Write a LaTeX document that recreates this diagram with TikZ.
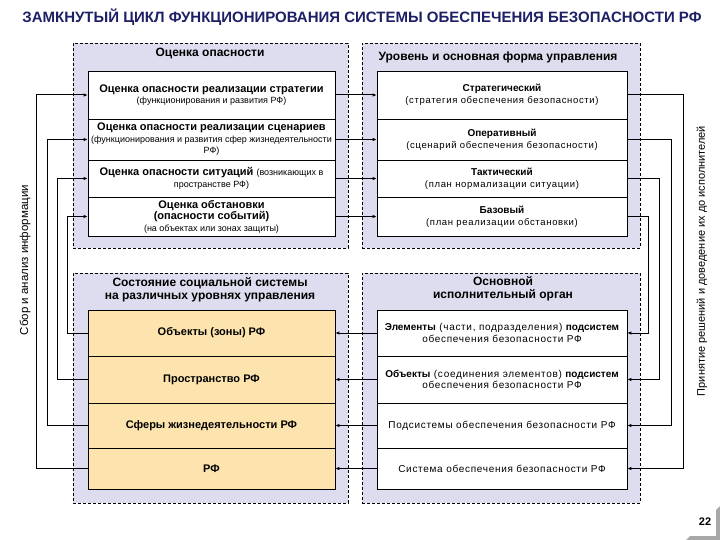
\documentclass[tikz,border=0pt]{standalone}
\usepackage{fontspec}
\setmainfont{Liberation Sans}
\newfontfamily\scSpaced[LetterSpace=7]{Liberation Sans}
\usetikzlibrary{
    arrows.meta,
    positioning,
    calc
}
\definecolor{scNavy}{HTML}{1E2066}
\definecolor{scLavender}{HTML}{DDDDEF}
\definecolor{scSand}{HTML}{FDE4AE}
\definecolor{scShade}{HTML}{A8A8A8}
\newcommand{\scSub}[1]{{\fontsize{9}{9.5}\selectfont\mdseries #1}}
\newcommand{\scKey}[1]{{\rmfamily\bfseries #1}}
\tikzset{
    scPanel/.style={
        draw=black,
        fill=scLavender,
        dash pattern=on 3pt off 2pt,
        line width=0.6pt,
        inner sep=0pt
    },
    scHead/.style={
        font=\fontsize{12}{12.5}\selectfont\bfseries,
        align=center,
        inner sep=1pt
    },
    scRow/.style={
        draw=black,
        fill=white,
        line width=0.7pt,
        inner sep=0pt,
        align=center,
        font=\fontsize{11}{11.5}\selectfont
    },
    scLevel/.style={
        scRow,
        font=\fontsize{9.5}{12}\selectfont
    },
    scOrgan/.style={
        scRow,
        font=\fontsize{10}{11.5}\selectfont\scSpaced
    },
    scState/.style={
        scRow,
        fill=scSand,
        font=\fontsize{11}{12}\selectfont\bfseries
    },
    scSide/.style={
        rotate=90,
        fill=white,
        inner sep=1pt,
        font=\fontsize{11.5}{13}\selectfont
    },
    scArrow/.style={-{Latex[length=4pt,width=3.5pt]},line width=1pt,draw=black}
}

\begin{document}
\begin{tikzpicture}[x=1pt,y=-1pt]
        \path[fill=white,use as bounding box] (0,0) rectangle (720,540);

        % title
        \node[text=scNavy,font=\fontsize{15}{17}\selectfont\bfseries] (title) at (362,17)
            {ЗАМКНУТЫЙ ЦИКЛ ФУНКЦИОНИРОВАНИЯ СИСТЕМЫ ОБЕСПЕЧЕНИЯ БЕЗОПАСНОСТИ РФ};

        % dashed panels
        \node[scPanel,minimum width=275pt,minimum height=205pt] (assessP) at (210.5,145.5) {};
        \node[scPanel,minimum width=278pt,minimum height=205pt] (levelP) at (501,145.5) {};
        \node[scPanel,minimum width=275pt,minimum height=230pt] (stateP) at (210.5,388) {};
        \node[scPanel,minimum width=278pt,minimum height=230pt] (organP) at (501,388) {};

        \node[scHead] (assessH) at (210,54) {Оценка опасности};
        \node[scHead] (levelH) at (498,57) {Уровень и основная форма управления};
        \node[scHead] (stateH) at (210,290) {Состояние социальной системы\\на различных уровнях управления};
        \node[scHead] (organH) at (503,289) {Основной\\исполнительный орган};

        % hazard assessment
        \node[scRow,minimum width=247pt,minimum height=48pt] (a1) at (211.5,95)
            {\textbf{Оценка опасности реализации стратегии}\\\scSub{(функционирования и развития РФ)}};
        \node[scRow,minimum width=247pt,minimum height=41pt] (a2) at (211.5,139.5)
            {\textbf{Оценка опасности реализации сценариев}\\\scSub{(функционирования и развития сфер жизнедеятельности}\\\scSub{РФ)}};
        \node[scRow,minimum width=247pt,minimum height=37pt] (a3) at (211.5,178.5)
            {\textbf{Оценка опасности ситуаций} \scSub{(возникающих в}\\\scSub{пространстве РФ)}};
        \node[scRow,minimum width=247pt,minimum height=39pt] (a4) at (211.5,216.5)
            {\textbf{Оценка обстановки}\\\textbf{(опасности событий)}\\\scSub{(на объектах или зонах защиты)}};

        % control level
        \node[scLevel,minimum width=250pt,minimum height=48pt] (l1) at (502,95)
            {\scKey{\fontsize{10}{12}\selectfont Стратегический}\\{\scSpaced (стратегия обеспечения безопасности)}};
        \node[scLevel,minimum width=250pt,minimum height=41pt] (l2) at (502,139.5)
            {\scKey{\fontsize{10}{12}\selectfont Оперативный}\\{\scSpaced (сценарий обеспечения безопасности)}};
        \node[scLevel,minimum width=250pt,minimum height=37pt] (l3) at (502,178.5)
            {\scKey{\fontsize{10}{12}\selectfont Тактический}\\{\scSpaced (план нормализации ситуации)}};
        \node[scLevel,minimum width=250pt,minimum height=39pt] (l4) at (502,216.5)
            {\scKey{\fontsize{10}{12}\selectfont Базовый}\\{\scSpaced (план реализации обстановки)}};

        % social system state
        \node[scState,minimum width=247pt,minimum height=46pt] (s1) at (211.5,333) {Объекты (зоны) РФ};
        \node[scState,minimum width=247pt,minimum height=47pt] (s2) at (211.5,379.5) {Пространство РФ};
        \node[scState,minimum width=247pt,minimum height=45pt] (s3) at (211.5,425.5) {Сферы жизнедеятельности РФ};
        \node[scState,minimum width=247pt,minimum height=41pt] (s4) at (211.5,468.5) {РФ};

        % executive body
        \node[scOrgan,minimum width=250pt,minimum height=46pt] (o1) at (502,333)
            {\scKey{Элементы} (части, подразделения) \scKey{подсистем}\\обеспечения безопасности РФ};
        \node[scOrgan,minimum width=250pt,minimum height=47pt] (o2) at (502,379.5)
            {\scKey{Объекты} (соединения элементов) \scKey{подсистем}\\обеспечения безопасности РФ};
        \node[scOrgan,minimum width=250pt,minimum height=45pt] (o3) at (502,425.5)
            {Подсистемы обеспечения безопасности РФ};
        \node[scOrgan,minimum width=250pt,minimum height=41pt] (o4) at (502,468.5)
            {Система обеспечения безопасности РФ};

        % side captions
        \node[scSide] (collect) at (25,260) {Сбор и анализ информации};
        \node[scSide,font=\fontsize{11}{13}\selectfont] (decide) at (702,261)
            {Принятие решений и доведение их до исполнителей};

        % flows between columns
        \foreach \r in {1,...,4} {
            \draw[scArrow] (a\r.east) -- (l\r.west);
            \draw[scArrow] (o\r.west) -- (s\r.east);
        }

        % decisions down to executors
        \draw[scArrow] (l1.east) -- ++(56,0) |- (o4.east);
        \draw[scArrow] (l2.east) -- ++(44,0) |- (o3.east);
        \draw[scArrow] (l3.east) -- ++(32,0) |- (o2.east);
        \draw[scArrow] (l4.east) -- ++(21,0) |- (o1.east);

        % information back to assessment
        \draw[scArrow] (s4.west) -- ++(-51,0) |- (a1.west);
        \draw[scArrow] (s3.west) -- ++(-40,0) |- (a2.west);
        \draw[scArrow] (s2.west) -- ++(-30,0) |- (a3.west);
        \draw[scArrow] (s1.west) -- ++(-20,0) |- (a4.west);

        % page number
        \fill[scShade] (686,540) -- (690,536) -- (716,536) -- (716,510) -- (720,506) -- (720,540) -- cycle;
        \node[font=\fontsize{11}{13}\selectfont\bfseries] (page) at (705,522) {22};
    \end{tikzpicture}
\end{document}
